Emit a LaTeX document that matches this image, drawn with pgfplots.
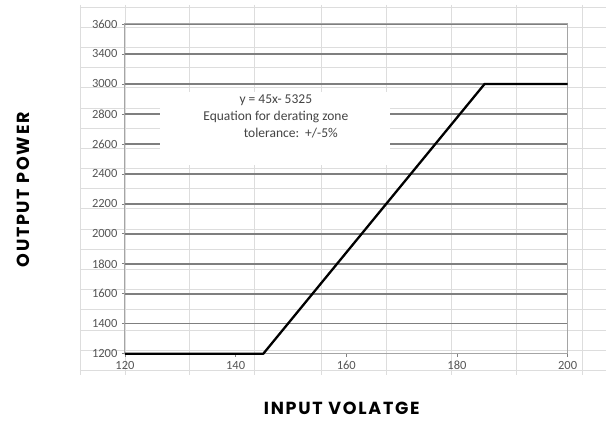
\documentclass[border=0pt]{standalone}
\usepackage{fontspec}
\setmainfont{Carlito}
\newfontfamily\titlefont{Poppins}[LetterSpace=10]
\usepackage{pgfplots}
\pgfplotsset{compat=1.18}
\definecolor{tickgray}{HTML}{555555}
\definecolor{gridgray}{HTML}{7F7F7F}
\definecolor{sheetgray}{HTML}{DDDDDD}
\definecolor{textgray}{HTML}{444444}
\begin{document}
\begin{tikzpicture}
\path (-125pt,-67pt) rectangle (481pt,354pt);
% spreadsheet background grid
\begin{axis}[
  at={(-45pt,-21pt)}, anchor=south west,
  scale only axis, width=526pt, height=370pt,
  xmin=80, xmax=606, ymin=5, ymax=375, y dir=reverse,
  axis line style={draw=none},
  tick style={draw=none},
  xtick={80,125,190,255,322,387,452,517,583},
  ytick={7,27.2,...,375},
  xticklabels={}, yticklabels={},
  grid=major,
  major grid style={sheetgray, line width=0.8pt},
]
\addplot[draw=none] coordinates {(80,5) (606,375)};
\end{axis}
% main chart
\begin{axis}[
  at={(0pt,0pt)}, anchor=south west,
  scale only axis, width=443pt, height=330pt,
  xmin=120, xmax=200, ymin=1200, ymax=3400,
  xtick={120,140,...,200},
  ytick={1200,1400,...,3400},
  yticklabels={1200,1400,1600,1800,2000,2200,2400,2600,2800,3000,3400,3600},
  /pgf/number format/assume math mode=true,
  /pgf/number format/1000 sep={},
  ticklabel style={font=\fontsize{12.5}{14}\selectfont, text=tickgray},
  xtick pos=bottom, ytick pos=left,
  tick align=outside,
  major tick length=3pt,
  tick style={gridgray, line width=0.7pt},
  axis line style={gridgray!70, line width=1pt},
  ymajorgrids,
  major grid style={gridgray, line width=1.4pt},
  xticklabel style={yshift=-1pt},
  yticklabel style={xshift=-1pt},
  clip=false,
]
\addplot[black, line width=2.3pt, line join=round] coordinates {(120,1200) (145,1200) (185,3000) (200,3000)};
\end{axis}
% annotation box
\fill[white] (35pt,189pt) rectangle (265pt,262pt);
\node[text=textgray, font=\fontsize{13.5}{16}\selectfont] at (151pt,254pt) {y = 45x- 5325};
\node[text=textgray, font=\fontsize{13.5}{16}\selectfont] at (151pt,237pt) {Equation for derating zone};
\node[text=textgray, font=\fontsize{13.5}{16}\selectfont] at (166pt,221pt) {tolerance:\ \ +/-5\%};
% axis titles
\node[rotate=90, font=\titlefont\bfseries\fontsize{17.5}{20}\selectfont] at (-102pt,164pt) {OUTPUT POWER};
\node[font=\titlefont\bfseries\fontsize{17.5}{20}\selectfont] at (217pt,-55pt) {INPUT VOLATGE};
\end{tikzpicture}
\end{document}
